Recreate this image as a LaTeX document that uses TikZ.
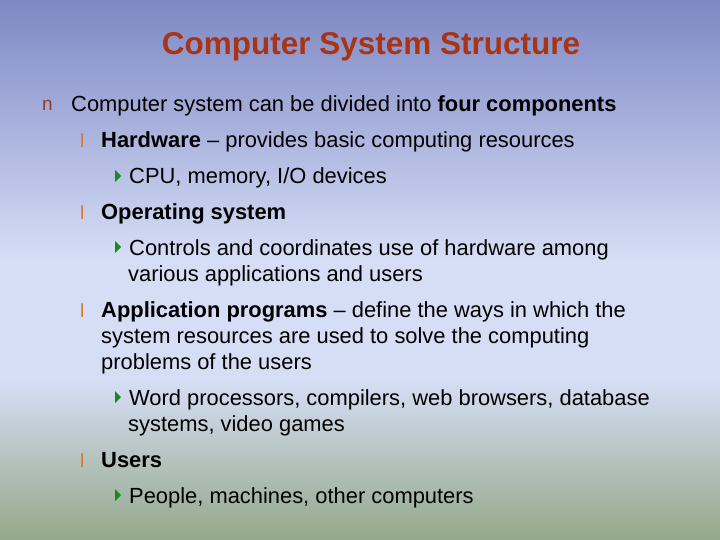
\documentclass[tikz,border=0pt]{standalone}
\usepackage{fontspec}
\setmainfont{Liberation Sans}
\definecolor{bgtop}{RGB}{126,136,196}
\definecolor{bgmid}{RGB}{214,222,246}
\definecolor{bgbot}{RGB}{148,168,138}
\definecolor{ttl}{RGB}{168,52,22}
\definecolor{bn}{RGB}{150,60,30}
\definecolor{bl}{RGB}{215,120,40}
\definecolor{tri}{RGB}{20,140,30}
\begin{document}
\begin{tikzpicture}[x=1pt,y=-1pt,
  txt/.style={anchor=base west,inner sep=0pt,font=\fontsize{21.9}{26}\selectfont},
  bul/.style={anchor=base west,inner sep=0pt,font=\fontsize{19}{22}\selectfont}]
\useasboundingbox (0,0) rectangle (720,540);
\shade[top color=bgtop,bottom color=bgmid] (0,0) rectangle (720,260);
\fill[bgmid] (0,259) rectangle (720,380);
\shade[top color=bgmid,bottom color=bgbot] (0,379) rectangle (720,540);
\node (title) [anchor=base,inner sep=0pt,font=\fontsize{31.5}{36}\selectfont\bfseries,text=ttl] at (371,55) {Computer System Structure};
\node[bul,text=bn] at (42,111) {n};
\node[txt] at (71,112) {Computer system can be divided into \textbf{four components}};
\foreach \y in {148,219,317,467} \node[bul,text=bl] at (80,\y) {l};
\foreach \y in {184,255,405,503} \fill[tri] (115,\y-14) -- (121,\y-8) -- (115,\y-2) -- cycle;
\node[txt] at (101,148) {\textbf{Hardware} – provides basic computing resources};
\node[txt] at (129,184) {CPU, memory, I/O devices};
\node[txt] at (101,219) {\textbf{Operating system}};
\node[txt] at (129,255) {Controls and coordinates use of hardware among};
\node[txt] at (128,281) {various applications and users};
\node[txt] at (101,317) {\textbf{Application programs} – define the ways in which the};
\node[txt] at (101,343) {system resources are used to solve the computing};
\node[txt] at (101,369) {problems of the users};
\node[txt] at (129,405) {Word processors, compilers, web browsers, database};
\node[txt] at (128,431) {systems, video games};
\node[txt] at (101,467) {\textbf{Users}};
\node[txt] at (129,503) {People, machines, other computers};
\end{tikzpicture}
\end{document}
